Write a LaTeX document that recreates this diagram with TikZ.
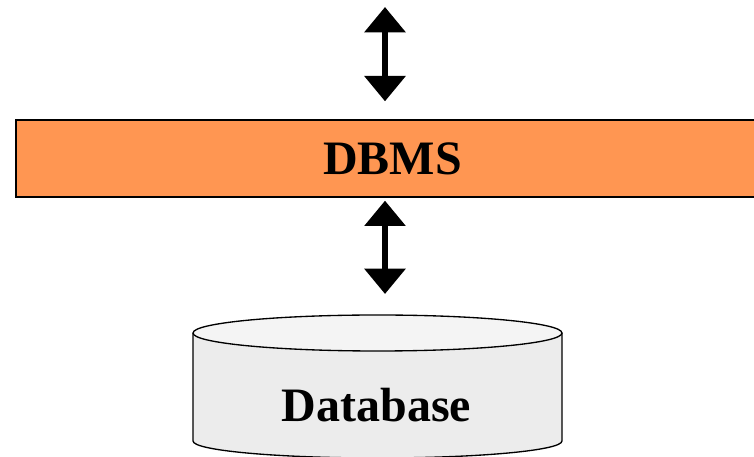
\documentclass[tikz,border=0pt]{standalone}
\usepackage{fontspec}
\setmainfont{Liberation Serif}
\usetikzlibrary{arrows.meta}
\definecolor{dbmsorange}{RGB}{255,150,82}
\definecolor{cylbody}{RGB}{236,236,236}
\definecolor{cyltop}{RGB}{244,244,244}
\tikzset{
  dblarrow/.style={line width=5pt,
    {Triangle[width=30pt,length=19pt]}-{Triangle[width=30pt,length=19pt]}},
  boxlabel/.style={font=\fontsize{36}{40}\selectfont\bfseries},
}
\begin{document}
\begin{tikzpicture}[x=0.75pt,y=0.75pt]
\useasboundingbox (0,0) rectangle (754,457);
\begin{scope}
\clip (0,0) rectangle (754,457);
% DBMS bar
\node[draw=black, line width=1pt, fill=dbmsorange, minimum width=753*0.75pt,
      minimum height=77*0.75pt, inner sep=0pt, boxlabel] (dbms) at (392.5,298.5) {DBMS};
% cylinder body
\fill[cylbody] (193,124) -- (193,16) arc (180:360:184.5 and 17) -- (562,124) -- cycle;
\draw[line width=1pt] (193,124) -- (193,16) arc (180:360:184.5 and 17) -- (562,124);
\draw[line width=1pt, fill=cyltop] (377.5,124) ellipse (184.5 and 18);
\coordinate (dbtop) at (377.5,142);
\node[boxlabel, inner sep=0pt] (db) at (376.5,52) {Database};
% arrows
\coordinate (upper) at (385,450);
\draw[dblarrow, shorten >=18*0.75pt] (upper) -- (upper |- dbms.north);
\draw[dblarrow, shorten <=3*0.75pt, shorten >=21*0.75pt] (upper |- dbms.south) -- (upper |- dbtop);
\end{scope}
\end{tikzpicture}
\end{document}
